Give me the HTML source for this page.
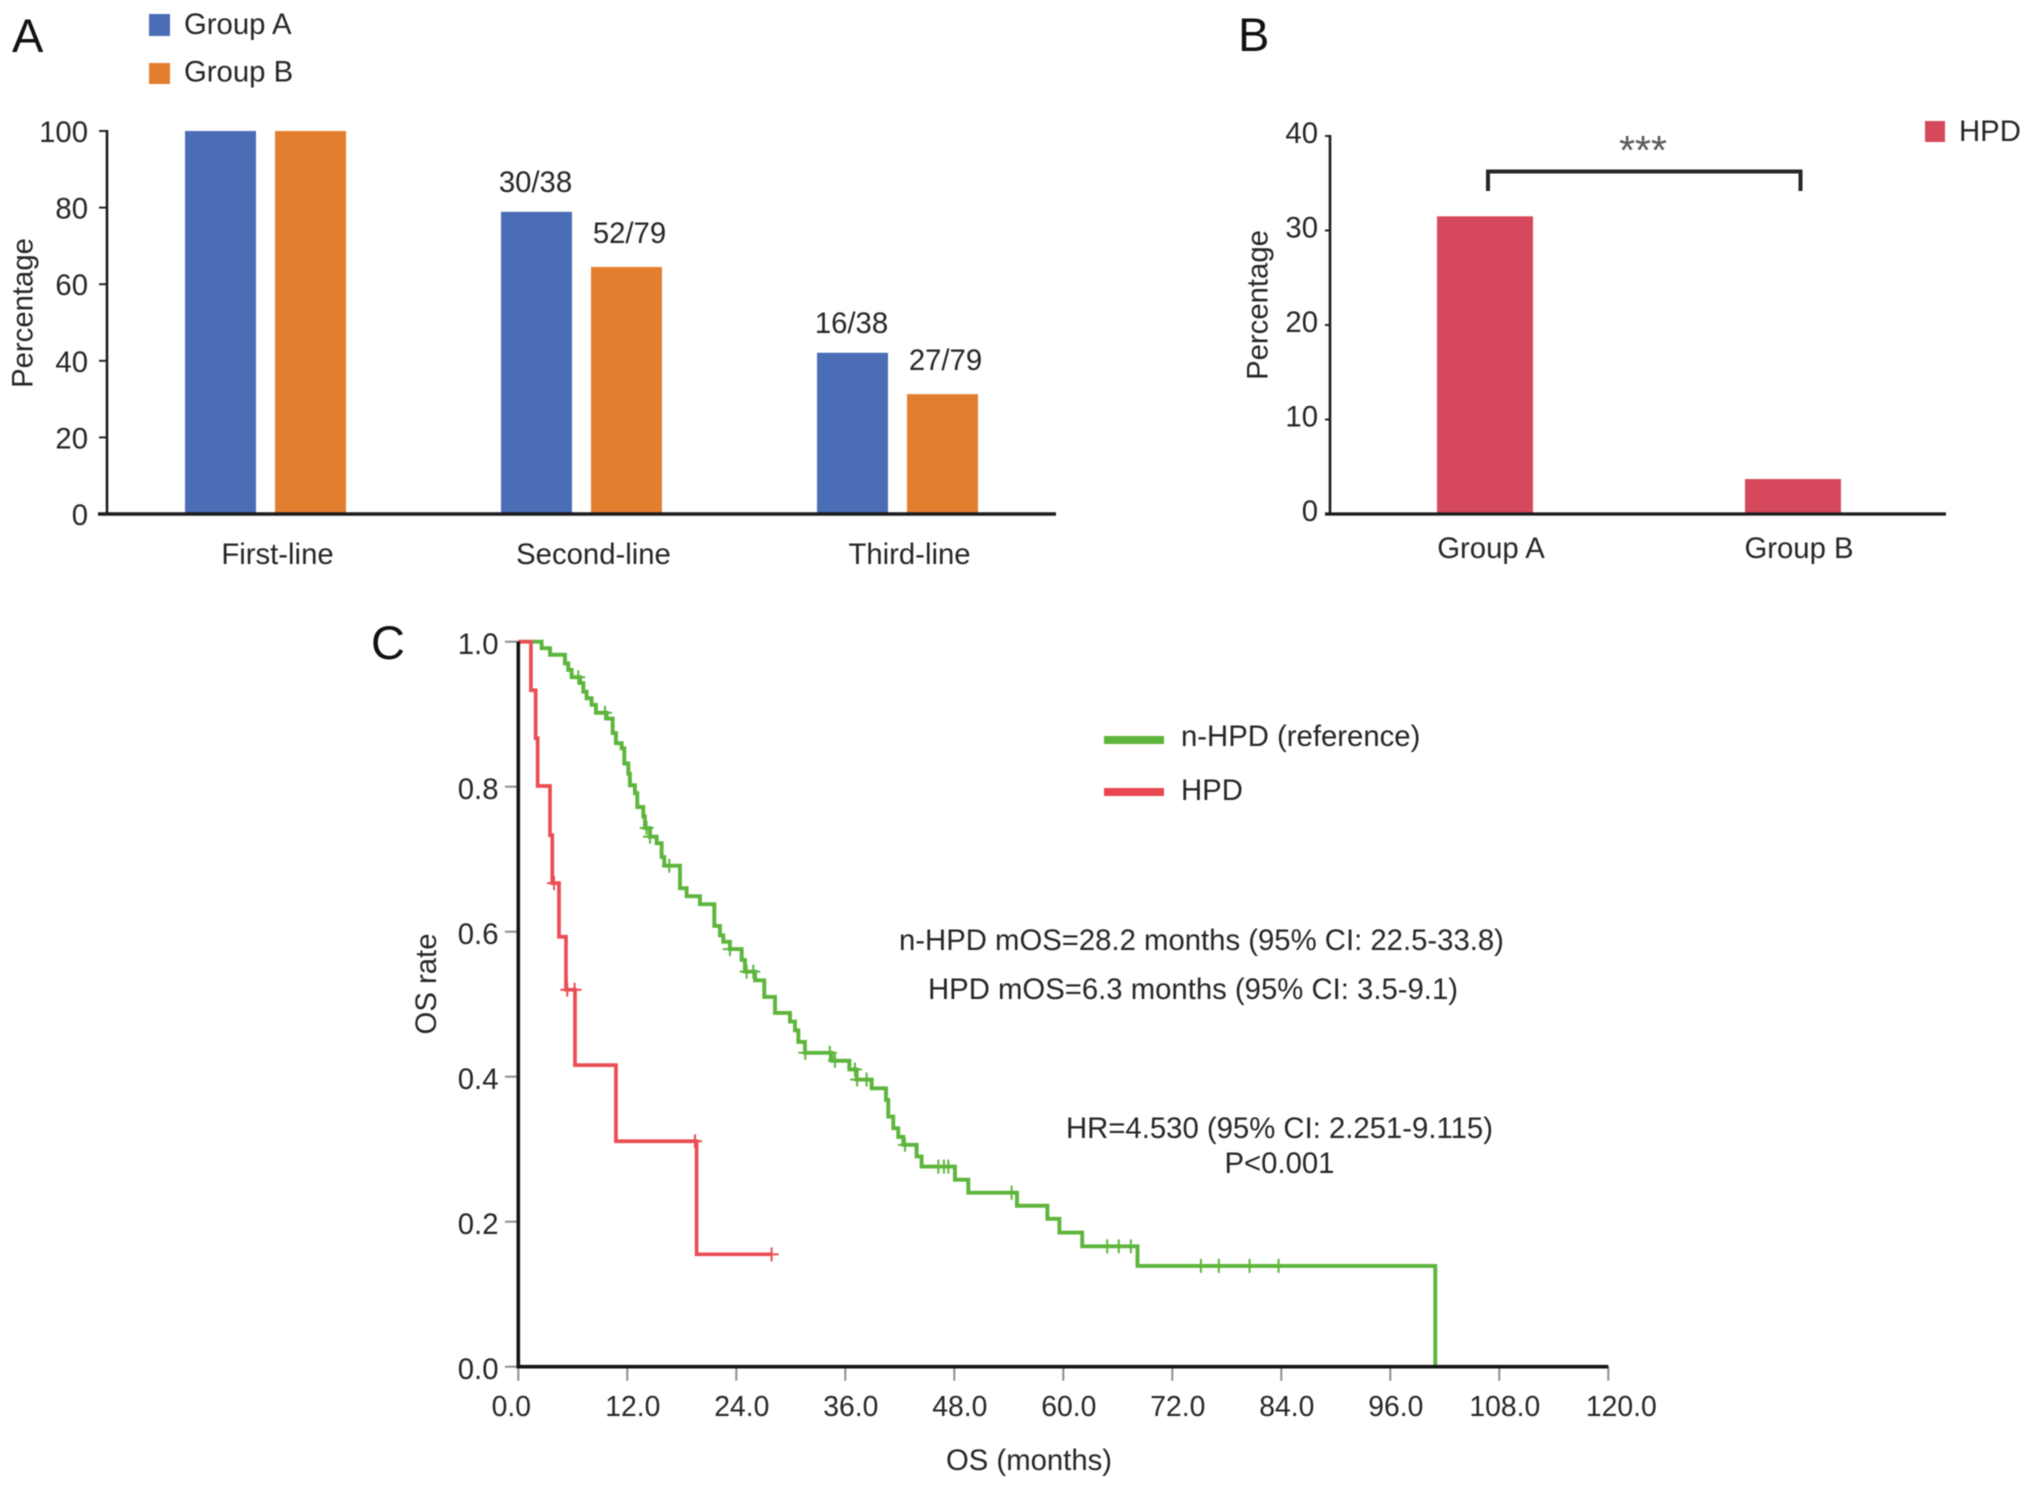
<!DOCTYPE html>
<html lang="en">
<head>
<meta charset="utf-8">
<title>Panels A, B and C: treatment lines, HPD rate and overall survival</title>
<style>
html,body{margin:0;padding:0;background:#fff;}
svg{display:block;filter:blur(0.4px);}
text{font-family:"Liberation Sans",Arial,sans-serif;font-size:29.3px;fill:#262626;}
.letter{font-size:47px;fill:#111;}
</style>
</head>
<body>
<svg id="figure" xmlns="http://www.w3.org/2000/svg" width="2032" height="1489" viewBox="0 0 2032 1489">
  <rect x="0" y="0" width="2032" height="1489" fill="#ffffff"/>

  <!-- Panel A static parts -->
  <text class="letter" x="12" y="52">A</text>
  <rect x="149" y="14" width="21" height="22" fill="#4a6db5"/>
  <text x="184" y="34">Group A</text>
  <rect x="149" y="63" width="21" height="21" fill="#e27e30"/>
  <text x="184" y="81.5">Group B</text>
  <text transform="translate(32.5 313) rotate(-90)" text-anchor="middle">Percentage</text>
  <g id="panelA"></g>

  <!-- Panel B static parts -->
  <text class="letter" x="1238" y="51">B</text>
  <rect x="1925" y="121" width="20" height="21" fill="#d6495c"/>
  <text x="1959" y="141">HPD</text>
  <text transform="translate(1267.5 305) rotate(-90)" text-anchor="middle">Percentage</text>
  <g id="panelB"></g>
  <path d="M1488 191V171.5H1800.5V191" fill="none" stroke="#262626" stroke-width="4"/>
  <text x="1643" y="164" text-anchor="middle" style="fill:#5a5a5a;font-size:41px">***</text>

  <!-- Panel C static parts -->
  <text class="letter" x="371" y="659">C</text>
  <text transform="translate(436 984) rotate(-90)" text-anchor="middle">OS rate</text>
  <text x="1029" y="1470" text-anchor="middle">OS (months)</text>
  <g id="panelC"></g>
  <rect x="1104" y="736" width="60" height="8" fill="#5db53c"/>
  <text x="1181" y="746">n-HPD (reference)</text>
  <rect x="1104" y="788" width="60" height="8" fill="#e8474f"/>
  <text x="1181" y="800">HPD</text>
  <text x="899" y="950">n-HPD mOS=28.2 months (95% CI: 22.5-33.8)</text>
  <text x="928" y="999">HPD mOS=6.3 months (95% CI: 3.5-9.1)</text>
  <text x="1066" y="1138">HR=4.530 (95% CI: 2.251-9.115)</text>
  <text x="1279.5" y="1173" text-anchor="middle">P&lt;0.001</text>
</svg>

<script>
// Panel A data
const lineCategories = ['First-line', 'Second-line', 'Third-line'];
const groupAPercent = [100, 78.9, 42.1];
const groupBPercent = [100, 64.5, 31.3];
const groupALabels = ['', '30/38', '16/38'];
const groupBLabels = ['', '52/79', '27/79'];
const panelATicks = [0, 20, 40, 60, 80, 100];

// Panel B data
const hpdCategories = ['Group A', 'Group B'];
const hpdPercent = [31.5, 3.7];
const panelBTicks = [0, 10, 20, 30, 40];

// Panel C data
const nHpdMonths = [2.57, 3.49, 5.14, 5.5, 5.87, 6.79, 7.16, 7.52, 8.07, 8.55, 9.72, 10.39, 10.75, 11.38, 11.67, 12.11, 12.29, 12.84, 13.1, 13.76, 13.94, 14.5, 15.23, 15.78, 16.07, 17.8, 18.53, 20, 21.58, 22.2, 22.57, 23.3, 24.59, 24.95, 26.06, 27.08, 28.26, 29.91, 30.46, 30.83, 31.56, 34.5, 36.44, 37.25, 38.9, 40.48, 40.73, 41.28, 41.83, 42.39, 43.85, 44.4, 48.07, 49.54, 54.9, 58.25, 59.57, 62.08, 68.17, 100.95];
const nHpdSurvival = [0.991, 0.982, 0.97, 0.961, 0.951, 0.943, 0.931, 0.922, 0.913, 0.902, 0.894, 0.874, 0.86, 0.853, 0.832, 0.818, 0.802, 0.791, 0.772, 0.759, 0.743, 0.731, 0.722, 0.703, 0.691, 0.66, 0.649, 0.638, 0.608, 0.595, 0.586, 0.576, 0.561, 0.545, 0.533, 0.51, 0.488, 0.476, 0.464, 0.448, 0.433, 0.422, 0.41, 0.396, 0.384, 0.368, 0.345, 0.329, 0.317, 0.306, 0.29, 0.276, 0.258, 0.24, 0.222, 0.204, 0.185, 0.166, 0.139, 0];
const nHpdCensorMonths = [6.6, 9.54, 14.13, 14.5, 16.62, 23.3, 25.14, 25.87, 31.6, 34.3, 34.86, 37.06, 37.3, 38.35, 42.57, 46.24, 46.86, 47.34, 54.31, 64.83, 66.11, 67.44, 75.15, 77.12, 80.51, 83.7];
const hpdMonths = [1.39, 1.91, 2.13, 3.49, 3.74, 4.48, 5.25, 6.24, 10.75, 19.63];
const hpdSurvival = [0.933, 0.867, 0.801, 0.733, 0.667, 0.593, 0.52, 0.416, 0.311, 0.155];
const hpdCensorMonths = [3.93, 5.39, 6.2, 19.45, 27.89];
const hpdLastMonth = 27.89;
const xTicks = [0, 12, 24, 36, 48, 60, 72, 84, 96, 108, 120];
const xTickLabels = ['0.0', '12.0', '24.0', '36.0', '48.0', '60.0', '72.0', '84.0', '96.0', '108.0', '120.0'];
const yTicks = [0, 0.2, 0.4, 0.6, 0.8, 1];
const yTickLabels = ['0.0', '0.2', '0.4', '0.6', '0.8', '1.0'];

const NS = 'http://www.w3.org/2000/svg';
function mk(parent, tag, props, content) {
  const el = document.createElementNS(NS, tag);
  for (const key in props) el.setAttribute(key, props[key]);
  if (content !== undefined) el.textContent = content;
  parent.appendChild(el);
  return el;
}

// ---------- Panel A ----------
const gA = document.getElementById('panelA');
const yA = v => 514 - 3.83 * v;
const bandA = i => 265.5 + 316 * i;
const seriesA = [
  { key: 'group-a', values: groupAPercent, labels: groupALabels, fill: '#4a6db5', offset: -80.5, gap: 20, nudge: -1 },
  { key: 'group-b', values: groupBPercent, labels: groupBLabels, fill: '#e27e30', offset: 9.5, gap: 24, nudge: 3 }
];
seriesA.forEach(s => {
  s.values.forEach((v, i) => {
    const bar = mk(gA, 'rect', { x: bandA(i) + s.offset, y: yA(v), width: 71, height: yA(0) - yA(v), fill: s.fill });
    
    
    if (s.labels[i]) {
      const lab = mk(gA, 'text', { x: bandA(i) + s.offset + 35.5 + s.nudge, y: yA(v) - s.gap, 'text-anchor': 'middle' }, s.labels[i]);
      
      
    }
  });
});
lineCategories.forEach((c, i) => {
  const lab = mk(gA, 'text', { x: bandA(i) + 12, y: 564, 'text-anchor': 'middle' }, c);
  
  
});
panelATicks.forEach(t => {
  const tick = mk(gA, 'line', { x1: 99, x2: 107, y1: yA(t), y2: yA(t), stroke: '#262626', 'stroke-width': 2 });
  
  
  const lab = mk(gA, 'text', { x: 88, y: yA(t) + 11, 'text-anchor': 'end' }, String(t));
  
  
});
const axisAY = mk(gA, 'line', { x1: 107, x2: 107, y1: yA(100) - 1, y2: yA(0), stroke: '#1c1c1c', 'stroke-width': 2.6 });


const axisAX = mk(gA, 'line', { x1: 98, x2: 1056, y1: yA(0), y2: yA(0), stroke: '#1c1c1c', 'stroke-width': 3.4 });



// ---------- Panel B ----------
const gB = document.getElementById('panelB');
const yB = v => 514 - 9.45 * v;
const bandB = i => 1485 + 308 * i;
hpdPercent.forEach((v, i) => {
  const bar = mk(gB, 'rect', { x: bandB(i) - 48, y: yB(v), width: 96, height: yB(0) - yB(v), fill: '#d6495c' });
  
  
  const lab = mk(gB, 'text', { x: bandB(i) + 6, y: 558, 'text-anchor': 'middle' }, hpdCategories[i]);
  
  
});
panelBTicks.forEach(t => {
  const tick = mk(gB, 'line', { x1: 1325, x2: 1330, y1: yB(t), y2: yB(t), stroke: '#262626', 'stroke-width': 2 });
  
  
  const lab = mk(gB, 'text', { x: 1318, y: yB(t) + 7, 'text-anchor': 'end' }, String(t));
  
  
});
const axisBY = mk(gB, 'line', { x1: 1330, x2: 1330, y1: yB(40) - 1, y2: yB(0), stroke: '#1c1c1c', 'stroke-width': 2.6 });


const axisBX = mk(gB, 'line', { x1: 1325, x2: 1946, y1: yB(0), y2: yB(0), stroke: '#1c1c1c', 'stroke-width': 3.2 });



// ---------- Panel C ----------
const gC = document.getElementById('panelC');
const xC = m => 518.3 + 9.0833 * m;
const yC = s => 1366.7 - 725 * s;
const xLabelC = m => xC(m) + (m === xTicks[0] ? -7 : m === xTicks[xTicks.length - 1] ? 13 : 5.5);
function stepPath(months, survival, endMonth) {
  let d = 'M' + xC(0) + ' ' + yC(1);
  months.forEach((m, i) => {
    d += 'H' + xC(m) + 'V' + yC(survival[i]);
  });
  if (endMonth !== undefined) d += 'H' + xC(endMonth);
  return d;
}
function survivalAt(months, survival, t) {
  let s = 1;
  months.forEach((m, i) => { if (m <= t) s = survival[i]; });
  return s;
}
function censorPath(censors, months, survival) {
  let d = '';
  censors.forEach(t => {
    const cx = xC(t), cy = yC(survivalAt(months, survival, t));
    d += 'M' + (cx - 7) + ' ' + cy + 'H' + (cx + 7) + 'M' + cx + ' ' + (cy - 7) + 'V' + (cy + 7);
  });
  return d;
}
xTicks.forEach((t, i) => {
  const tick = mk(gC, 'line', { x1: xC(t), x2: xC(t), y1: yC(0), y2: yC(0) + 14, stroke: '#8c8c8c', 'stroke-width': 2 });
  
  
  const lab = mk(gC, 'text', { x: xLabelC(t), y: 1416, 'text-anchor': 'middle', style: 'font-size:28.3px' }, xTickLabels[i]);
  
  
});
yTicks.forEach((t, i) => {
  const tick = mk(gC, 'line', { x1: 505, x2: 518, y1: yC(t), y2: yC(t), stroke: '#8c8c8c', 'stroke-width': 2 });
  
  
  const lab = mk(gC, 'text', { x: 498.5, y: yC(t) + 12.5, 'text-anchor': 'end' }, yTickLabels[i]);
  
  
});
const curveGreen = mk(gC, 'path', { d: stepPath(nHpdMonths, nHpdSurvival), fill: 'none', stroke: '#5db53c', 'stroke-width': 3.9 });


const censorGreen = mk(gC, 'path', { d: censorPath(nHpdCensorMonths, nHpdMonths, nHpdSurvival), fill: 'none', stroke: '#5db53c', 'stroke-width': 2 });


const curveRed = mk(gC, 'path', { d: stepPath(hpdMonths, hpdSurvival, hpdLastMonth), fill: 'none', stroke: '#ea4d54', 'stroke-width': 3.7 });


const censorRed = mk(gC, 'path', { d: censorPath(hpdCensorMonths, hpdMonths, hpdSurvival), fill: 'none', stroke: '#ea4d54', 'stroke-width': 2 });


const axisCY = mk(gC, 'line', { x1: xC(0), x2: xC(0), y1: yC(1), y2: yC(0), stroke: '#141414', 'stroke-width': 3.6 });


const axisCX = mk(gC, 'line', { x1: xC(0) - 1.8, x2: xC(120), y1: yC(0), y2: yC(0), stroke: '#141414', 'stroke-width': 3.6 });


</script>
</body>
</html>
